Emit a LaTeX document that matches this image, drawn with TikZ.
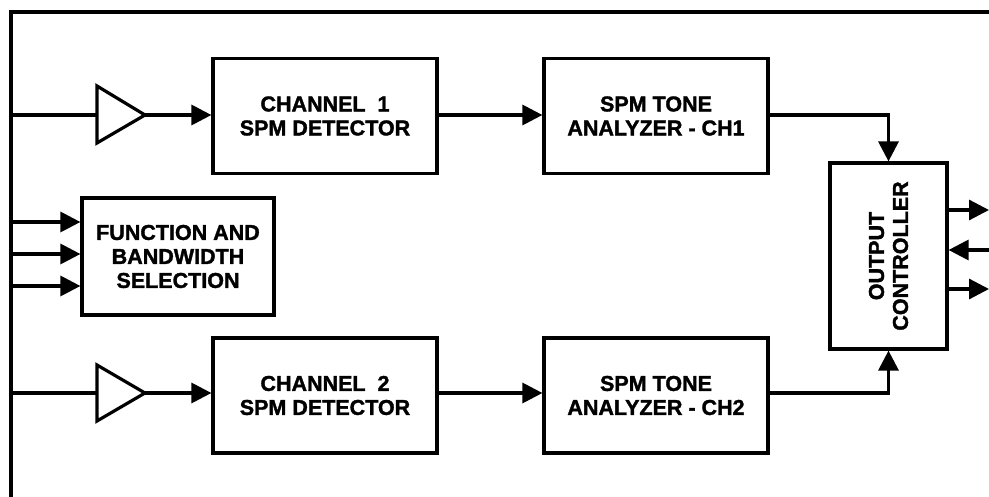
\documentclass[tikz,border=0pt]{standalone}
\usepackage{fontspec}
\setmainfont{Liberation Sans}
\newfontfamily\heavy[FakeBold=1.6]{Liberation Sans Bold}
\usetikzlibrary{arrows.meta}
\begin{document}
\begin{tikzpicture}[x=1pt,y=-1pt,
  frame/.style={line width=4.5pt, line join=miter},
  txt/.style={font=\heavy\fontsize{21.5}{24}\selectfont, align=center, inner sep=0pt},
  box/.style={draw, line width=3.2pt, txt},
  conn/.style={line width=3.2pt},
  arr/.style={conn, -{Triangle[length=20pt,width=20pt]}},
  amp/.style={line width=3.2pt, line join=miter}]
\useasboundingbox (0,0) rectangle (989,497);
\fill[white] (0,0) rectangle (989,497);
\draw[frame] (11,497) -- (11,12) -- (989,12);
% frame tap points
\coordinate (f1) at (11,115);
\coordinate (f2) at (11,393);
\coordinate (fa) at (11,222);
\coordinate (fb) at (11,254);
\coordinate (fc) at (11,286);
% blocks
\node[box, minimum width=224pt, minimum height=115pt] (d1) at (325,116) {CHANNEL\ \ 1\\SPM DETECTOR};
\node[box, minimum width=224pt, minimum height=115pt] (t1) at (656,116) {SPM TONE\\ANALYZER - CH1};
\node[box, minimum width=224pt, minimum height=115pt] (d2) at (325,395.5) {CHANNEL\ \ 2\\SPM DETECTOR};
\node[box, minimum width=224pt, minimum height=115pt] (t2) at (656,395.5) {SPM TONE\\ANALYZER - CH2};
\node[box, minimum width=192pt, minimum height=117pt] (fs) at (178,256.5) {FUNCTION AND\\BANDWIDTH\\SELECTION};
\node[draw, line width=3.2pt, minimum width=117pt, minimum height=186pt, inner sep=0pt] (oc) at (888.5,256) {};
\node[txt, rotate=90] (oct) at (oc.center) {OUTPUT\\CONTROLLER};
% amplifiers
\coordinate (a1i) at (97,115);
\coordinate (a1o) at (145,115);
\coordinate (a2i) at (97,393);
\coordinate (a2o) at (145,393);
\draw[amp] (97,86) -- (a1o) -- (97,143) -- cycle;
\draw[amp] (97,365) -- (a2o) -- (97,421) -- cycle;
% connectors
\draw[conn] (f1) -- (a1i);
\draw[conn] (f2) -- (a2i);
\draw[arr] (a1o) -- (a1o -| d1.west);
\draw[arr] (a2o) -- (a2o -| d2.west);
\draw[arr] (d1.east |- a1o) -- (a1o -| t1.west);
\draw[arr] (d2.east |- a2o) -- (a2o -| t2.west);
\draw[arr] (t1.east |- a1o) -| (oc.north);
\draw[arr] (t2.east |- a2o) -| (oc.south);
\draw[arr] (fa) -- (fs.west |- fa);
\draw[arr] (fb) -- (fs.west |- fb);
\draw[arr] (fc) -- (fs.west |- fc);
% outputs
\coordinate (r1) at (989,210);
\coordinate (r2) at (989,250);
\coordinate (r3) at (989,289);
\draw[arr] (oc.east |- r1) -- (r1);
\draw[arr] (r2) -- (oc.east |- r2);
\draw[arr] (oc.east |- r3) -- (r3);
\end{tikzpicture}
\end{document}
